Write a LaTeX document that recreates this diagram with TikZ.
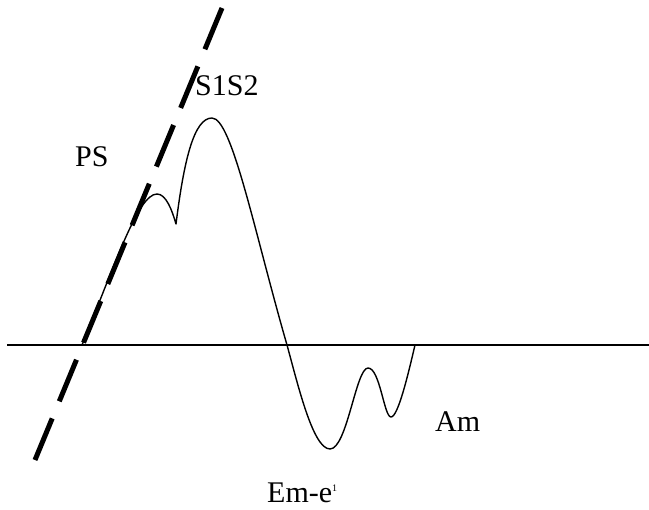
\documentclass[tikz,border=0pt]{standalone}
\usepackage{fontspec}
\setmainfont{Liberation Serif}
\begin{document}
\begin{tikzpicture}[x=1pt,y=-1pt,
  lbl/.style={anchor=base west,inner sep=0pt,font=\fontsize{30}{36}\selectfont},
  axisline/.style={line width=1.5pt},
  tangentline/.style={line width=5pt,dash pattern=on 45pt off 18.5pt},
  wave/.style={line width=1.4pt,line join=round}]
\useasboundingbox (0,0) rectangle (649,510);
% axis
\coordinate (axL) at (7,345);
\coordinate (axR) at (649,345);
\draw[axisline] (axL) -- (axR);
% dashed tangent line
\coordinate (tA) at (35,460);
\coordinate (tB) at (222,8);
\draw[tangentline] (tA) -- (tB);
% curve key points
\coordinate (p0) at (82,345);
\coordinate (hump) at (157,194);
\coordinate (dip) at (176,224);
\coordinate (peak) at (212,118);
\coordinate (cross) at (287,345);
\coordinate (mn) at (330,449);
\coordinate (lmax) at (368,368);
\coordinate (lmin) at (391,417);
\coordinate (pend) at (415,345);
\draw[wave] (p0) .. controls (115,265) and (138,194) .. (hump)
  .. controls (166,194) and (172,210) .. (dip)
  .. controls (184,160) and (194,118) .. (peak)
  .. controls (232,118) and (254.5,232.5) .. (cross)
  .. controls (298,385) and (313,449) .. (mn)
  .. controls (347,449) and (356,368) .. (lmax)
  .. controls (380,368) and (384,417) .. (lmin)
  .. controls (398,417) and (408,375) .. (pend);
% labels
\node[lbl] (ps) at (75,167) {PS};
\node[lbl] (s1s2) at (195,96) {S1S2};
\node[lbl] (am) at (435,432) {Am};
\node[lbl] (eme) at (267,503) {Em-e\raisebox{11pt}{\fontsize{10}{10}\selectfont 1}};
\end{tikzpicture}
\end{document}
